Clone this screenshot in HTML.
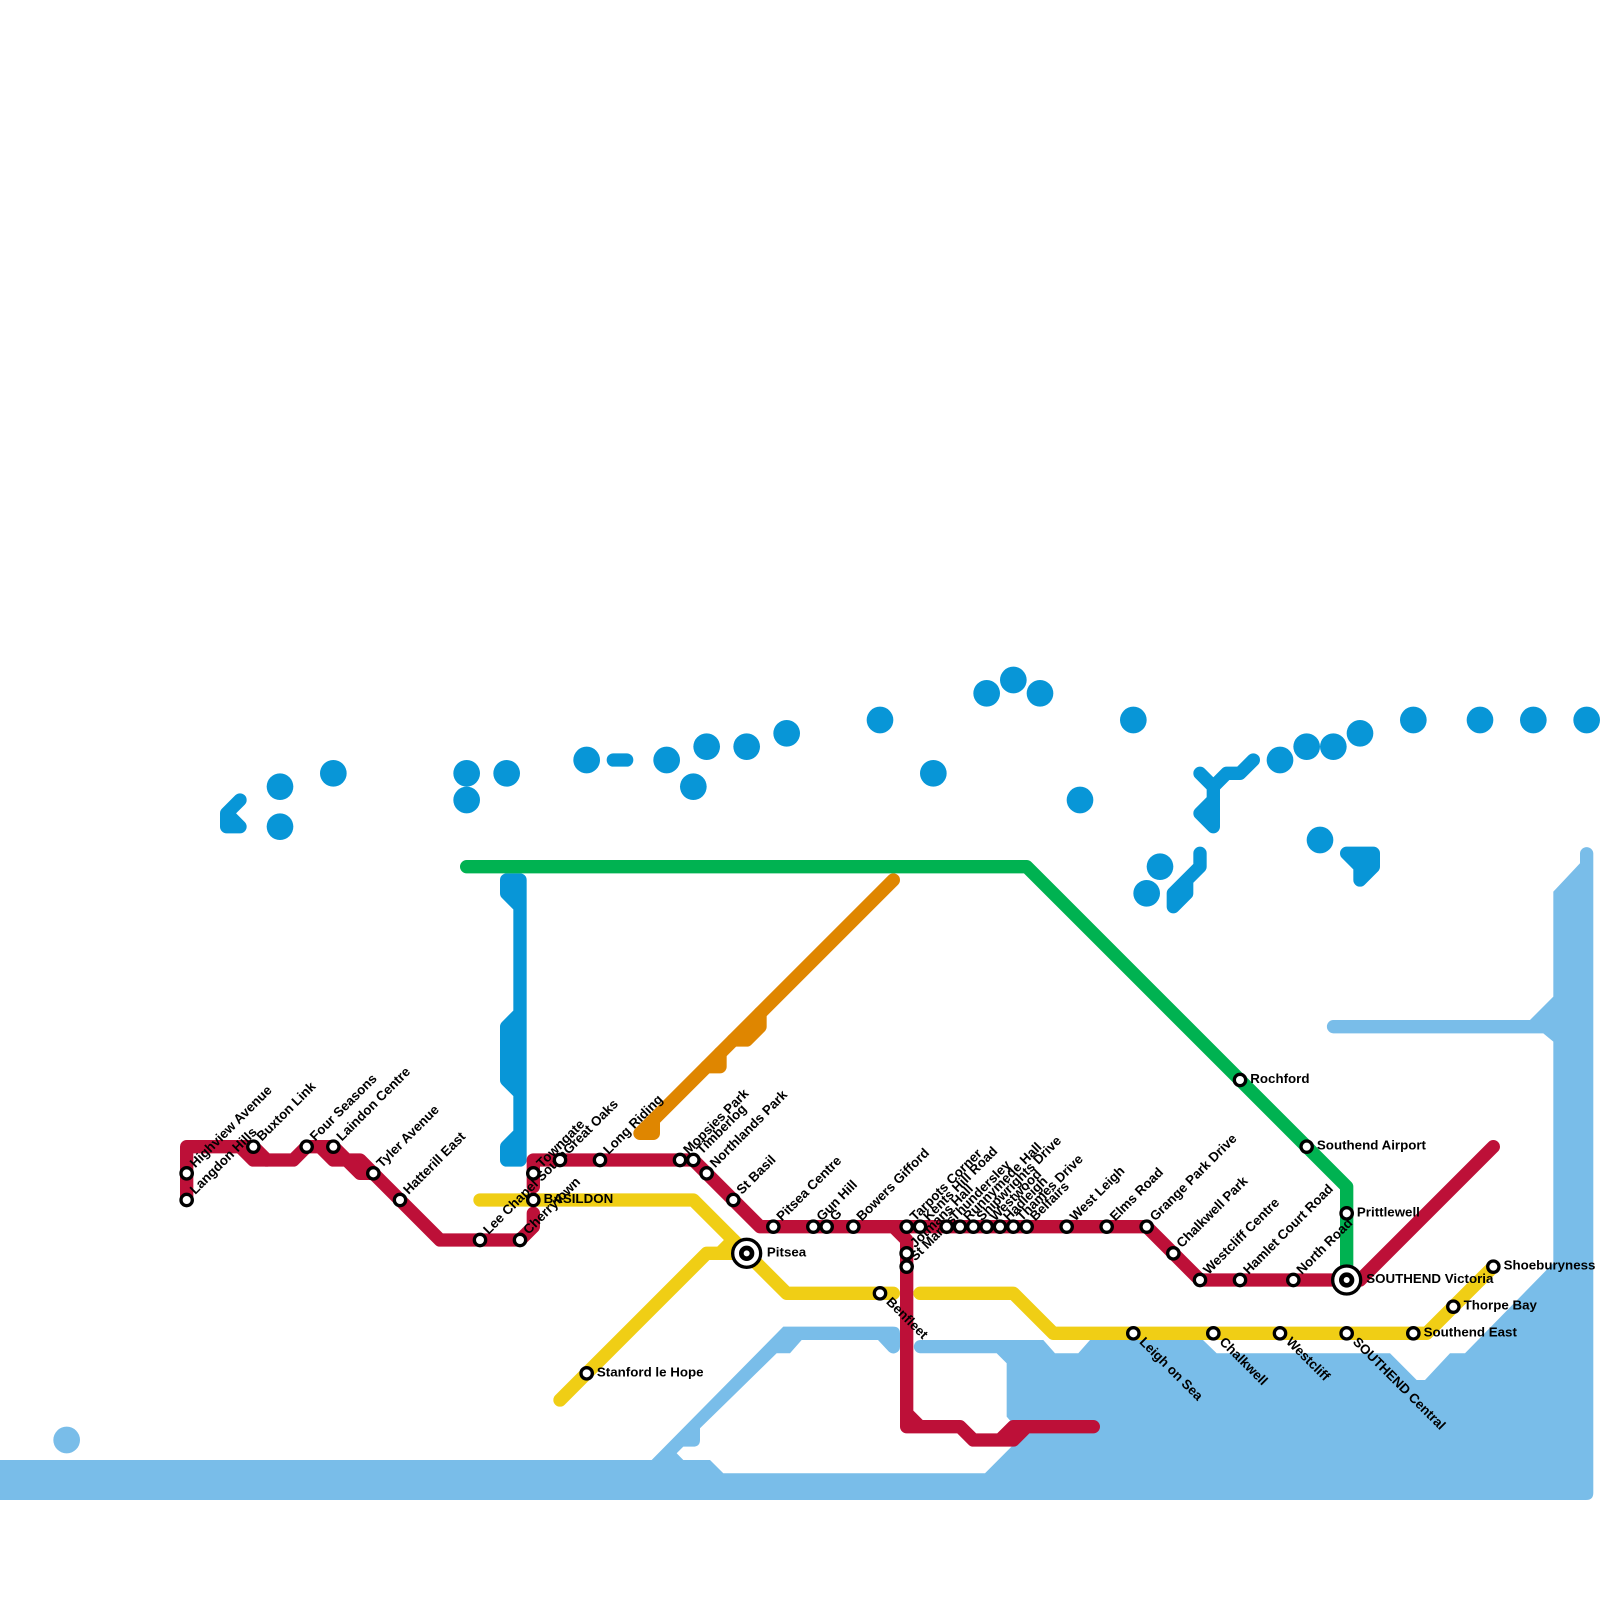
<!DOCTYPE html>
<html>
<head>
<meta charset="utf-8">
<style>
html,body{margin:0;padding:0;background:#fff}
svg{display:block}
text{font-family:"Liberation Sans",sans-serif;font-weight:bold;font-size:1px;fill:#000}
.l{fill:none;stroke-width:1;stroke-linecap:round;stroke-linejoin:round}
.m{fill:#fff;stroke:#000;stroke-width:.25}
</style>
</head>
<body>
<svg width="1600" height="1600" viewBox="0 0 1600 1600" xmlns="http://www.w3.org/2000/svg">
<path fill="#79bde9" d="M0,1460 L651.67,1460 L783.3,1326.67 L893,1326.67 Q900,1326.67 900,1333.33 L900,1346.67 A6.67,6.67 0 0 1 888.6,1351.4 L878,1340 L801.67,1340 L790,1353.3 L776.67,1353.3 L700,1428.3 L700,1440 Q700,1446.67 693,1446.67 L683.3,1446.67 L676.67,1453.3 L683.3,1460 L710,1460 L723.3,1473.3 L985,1473.3 L1030,1428 L1013,1424 L1006.67,1416.67 L1006.67,1363.3 L996.67,1353.3 L920,1353.3 A6.67,6.67 0 0 1 920,1340 L1043.3,1340 L1055,1353.3 L1078.3,1353.3 L1090,1340 L1203,1340 L1216.67,1353.3 L1390,1353.3 L1416.67,1380 L1425,1380 L1450,1353.3 L1465,1353.3 L1553.33,1263 L1553.33,1041.67 L1543.3,1033.33 L1333.3,1033.33 A6.67,6.67 0 0 1 1333.3,1020 L1530,1020 L1553.33,996.67 L1553.33,891.67 L1580,863.3 L1580,853.3 A6.67,6.67 0 0 1 1593.3,853.3 L1593.3,1493 Q1593.3,1500 1586,1500 L0,1500 Z"/>
<g transform="scale(13.33333)">
<circle cx="5" cy="108" r="1" fill="#79bde9"/>
<g fill="#0896d7">
<circle cx="21" cy="59" r="1"/><circle cx="21" cy="62" r="1"/><circle cx="25" cy="58" r="1"/><circle cx="35" cy="58" r="1"/><circle cx="35" cy="60" r="1"/><circle cx="38" cy="58" r="1"/><circle cx="44" cy="57" r="1"/><circle cx="50" cy="57" r="1"/><circle cx="53" cy="56" r="1"/><circle cx="52" cy="59" r="1"/><circle cx="56" cy="56" r="1"/><circle cx="59" cy="55" r="1"/><circle cx="66" cy="54" r="1"/><circle cx="70" cy="58" r="1"/><circle cx="74" cy="52" r="1"/><circle cx="76" cy="51" r="1"/><circle cx="78" cy="52" r="1"/><circle cx="81" cy="60" r="1"/><circle cx="85" cy="54" r="1"/><circle cx="87" cy="65" r="1"/><circle cx="86" cy="67" r="1"/><circle cx="96" cy="57" r="1"/><circle cx="98" cy="56" r="1"/><circle cx="100" cy="56" r="1"/><circle cx="102" cy="55" r="1"/><circle cx="99" cy="63" r="1"/><circle cx="106" cy="54" r="1"/><circle cx="111" cy="54" r="1"/><circle cx="115" cy="54" r="1"/><circle cx="119" cy="54" r="1"/>
<path d="M101,64H103V65L102,66V65Z"/>
</g>
<g class="l" stroke="#0896d7">
<path d="M46,57H47"/>
<path d="M18,60L17,61V62H18L17,61"/>
<path d="M90,58L91,59V62L90,61L91,60M91,59L92,58H93L94,57"/>
<path d="M90,64V65L88,67V68L89,67V66M88,67H89"/>
<path d="M101,64H103V65L102,66V65L101,64M102,64.5V65M102,65H103"/>
<path d="M38,67V66H39V87H38V86L39,85M38,67L39,68M39,76L38,77V81L39,82M38.5,77V81M38.5,86V87"/>
</g>
<g class="l" stroke="#00b251"><path d="M35,65H77L101,89V96"/></g>
<g class="l" stroke="#bd1038">
<path d="M14,90V86H19L20,87H22L23,86H25L26,87H27L33,93H39L40,92V91"/>
<path d="M18,86L19,87H20M24,86L25,87H26L27,88H28"/>
<path d="M40,89V87H52L57,92H86L90,96H102L112,86"/>
<path d="M67,92L68,93V107M68,106L69,107H72L73,108H76L77,107H82M68,107H69M75,108L76,107H77"/>
</g>
<g class="l" stroke="#df8600">
<path d="M49,84V85H48L67,66"/>
<path d="M53,80H54V79M55,78H56L57,77V76"/>
</g>
<g class="l" stroke="#f0ce15">
<path d="M36,90H52L59,97H67"/>
<path d="M69,97H76L79,100H107L112,95"/>
<path d="M42,105L53,94H56M54,94L55,93"/>
</g>

<g>
<text transform="translate(14,88) rotate(-45)" x=".72" y=".19">Highview Avenue</text>
<text transform="translate(14,90) rotate(-45)" x=".72" y=".19">Langdon Hills</text>
<text transform="translate(19,86) rotate(-45)" x=".72" y=".19">Buxton Link</text>
<text transform="translate(23,86) rotate(-45)" x=".72" y=".19">Four Seasons</text>
<text transform="translate(25,86) rotate(-45)" x=".72" y=".19">Laindon Centre</text>
<text transform="translate(28,88) rotate(-45)" x=".72" y=".19">Tyler Avenue</text>
<text transform="translate(30,90) rotate(-45)" x=".72" y=".19">Hatterill East</text>
<text transform="translate(36,93) rotate(-45)" x=".72" y=".19">Lee Chapel South</text>
<text transform="translate(39,93) rotate(-45)" x=".72" y=".19">Cherrytown</text>
<text transform="translate(40,88) rotate(-45)" x=".72" y=".19">Towngate</text>
<text transform="translate(42,87) rotate(-45)" x=".72" y=".19">Great Oaks</text>
<text transform="translate(45,87) rotate(-45)" x=".72" y=".19">Long Riding</text>
<text transform="translate(51,87) rotate(-45)" x=".72" y=".19">Mopsies Park</text>
<text transform="translate(52,87) rotate(-45)" x=".72" y=".19">Timberlog</text>
<text transform="translate(53,88) rotate(-45)" x=".72" y=".19">Northlands Park</text>
<text transform="translate(55,90) rotate(-45)" x=".72" y=".19">St Basil</text>
<text transform="translate(58,92) rotate(-45)" x=".72" y=".19">Pitsea Centre</text>
<text transform="translate(61,92) rotate(-45)" x=".72" y=".19">Gun Hill</text>
<text transform="translate(62,92) rotate(-45)" x=".72" y=".19">G</text>
<text transform="translate(64,92) rotate(-45)" x=".72" y=".19">Bowers Gifford</text>
<text transform="translate(68,92) rotate(-45)" x=".72" y=".19">Tarpots Corner</text>
<text transform="translate(69,92) rotate(-45)" x=".72" y=".19">Kents Hill Road</text>
<text transform="translate(68,94) rotate(-45)" x=".72" y=".19">Jotmans Hall</text>
<text transform="translate(68,95) rotate(-45)" x=".72" y=".19">St Mary's</text>
<text transform="translate(71,92) rotate(-45)" x=".72" y=".19">Thundersley</text>
<text transform="translate(72,92) rotate(-45)" x=".72" y=".19">Runnymede Hall</text>
<text transform="translate(73,92) rotate(-45)" x=".72" y=".19">Shipwrights Drive</text>
<text transform="translate(74,92) rotate(-45)" x=".72" y=".19">Westwood</text>
<text transform="translate(75,92) rotate(-45)" x=".72" y=".19">Hadleigh</text>
<text transform="translate(76,92) rotate(-45)" x=".72" y=".19">Thames Drive</text>
<text transform="translate(77,92) rotate(-45)" x=".72" y=".19">Belfairs</text>
<text transform="translate(80,92) rotate(-45)" x=".72" y=".19">West Leigh</text>
<text transform="translate(83,92) rotate(-45)" x=".72" y=".19">Elms Road</text>
<text transform="translate(86,92) rotate(-45)" x=".72" y=".19">Grange Park Drive</text>
<text transform="translate(88,94) rotate(-45)" x=".72" y=".19">Chalkwell Park</text>
<text transform="translate(90,96) rotate(-45)" x=".72" y=".19">Westcliff Centre</text>
<text transform="translate(93,96) rotate(-45)" x=".72" y=".19">Hamlet Court Road</text>
<text transform="translate(97,96) rotate(-45)" x=".72" y=".19">North Road</text>

<text transform="translate(66,97) rotate(45)" x=".78" y=".2">Benfleet</text>
<text transform="translate(85,100) rotate(45)" x=".78" y=".2">Leigh on Sea</text>
<text transform="translate(91,100) rotate(45)" x=".78" y=".2">Chalkwell</text>
<text transform="translate(96,100) rotate(45)" x=".78" y=".2">Westcliff</text>
<text transform="translate(101,100) rotate(45)" x=".78" y=".2">SOUTHEND Central</text>

<text x="40.77" y="90.22">BASILDON</text>
<text x="57.52" y="94.22">Pitsea</text>
<text x="44.77" y="103.22">Stanford le Hope</text>
<text x="93.77" y="81.22">Rochford</text>
<text x="98.77" y="86.22">Southend Airport</text>
<text x="101.77" y="91.22">Prittlewell</text>
<text x="102.47" y="96.22">SOUTHEND Victoria</text>
<text x="112.77" y="95.22">Shoeburyness</text>
<text x="109.77" y="98.22">Thorpe Bay</text>
<text x="106.77" y="100.22">Southend East</text>
</g>

<g class="m">
<circle cx="14" cy="88" r=".425"/><circle cx="14" cy="90" r=".425"/><circle cx="19" cy="86" r=".425"/><circle cx="23" cy="86" r=".425"/><circle cx="25" cy="86" r=".425"/><circle cx="28" cy="88" r=".425"/><circle cx="30" cy="90" r=".425"/><circle cx="36" cy="93" r=".425"/><circle cx="39" cy="93" r=".425"/><circle cx="40" cy="88" r=".425"/><circle cx="40" cy="90" r=".425"/><circle cx="42" cy="87" r=".425"/><circle cx="45" cy="87" r=".425"/><circle cx="51" cy="87" r=".425"/><circle cx="52" cy="87" r=".425"/><circle cx="53" cy="88" r=".425"/><circle cx="55" cy="90" r=".425"/><circle cx="58" cy="92" r=".425"/><circle cx="61" cy="92" r=".425"/><circle cx="62" cy="92" r=".425"/><circle cx="64" cy="92" r=".425"/><circle cx="68" cy="92" r=".425"/><circle cx="69" cy="92" r=".425"/><circle cx="68" cy="94" r=".425"/><circle cx="68" cy="95" r=".425"/><circle cx="71" cy="92" r=".425"/><circle cx="72" cy="92" r=".425"/><circle cx="73" cy="92" r=".425"/><circle cx="74" cy="92" r=".425"/><circle cx="75" cy="92" r=".425"/><circle cx="76" cy="92" r=".425"/><circle cx="77" cy="92" r=".425"/><circle cx="80" cy="92" r=".425"/><circle cx="83" cy="92" r=".425"/><circle cx="86" cy="92" r=".425"/><circle cx="88" cy="94" r=".425"/><circle cx="90" cy="96" r=".425"/><circle cx="93" cy="96" r=".425"/><circle cx="97" cy="96" r=".425"/><circle cx="66" cy="97" r=".425"/><circle cx="85" cy="100" r=".425"/><circle cx="91" cy="100" r=".425"/><circle cx="96" cy="100" r=".425"/><circle cx="101" cy="100" r=".425"/><circle cx="106" cy="100" r=".425"/><circle cx="109" cy="98" r=".425"/><circle cx="112" cy="95" r=".425"/><circle cx="44" cy="103" r=".425"/><circle cx="93" cy="81" r=".425"/><circle cx="98" cy="86" r=".425"/><circle cx="101" cy="91" r=".425"/>
<circle cx="56" cy="94" r="1.05"/><circle cx="56" cy="94" r=".4" style="stroke-width:.35"/>
<circle cx="101" cy="96" r="1.05"/><circle cx="101" cy="96" r=".4" style="stroke-width:.35"/>
</g>
</g>
</svg>
</body>
</html>
